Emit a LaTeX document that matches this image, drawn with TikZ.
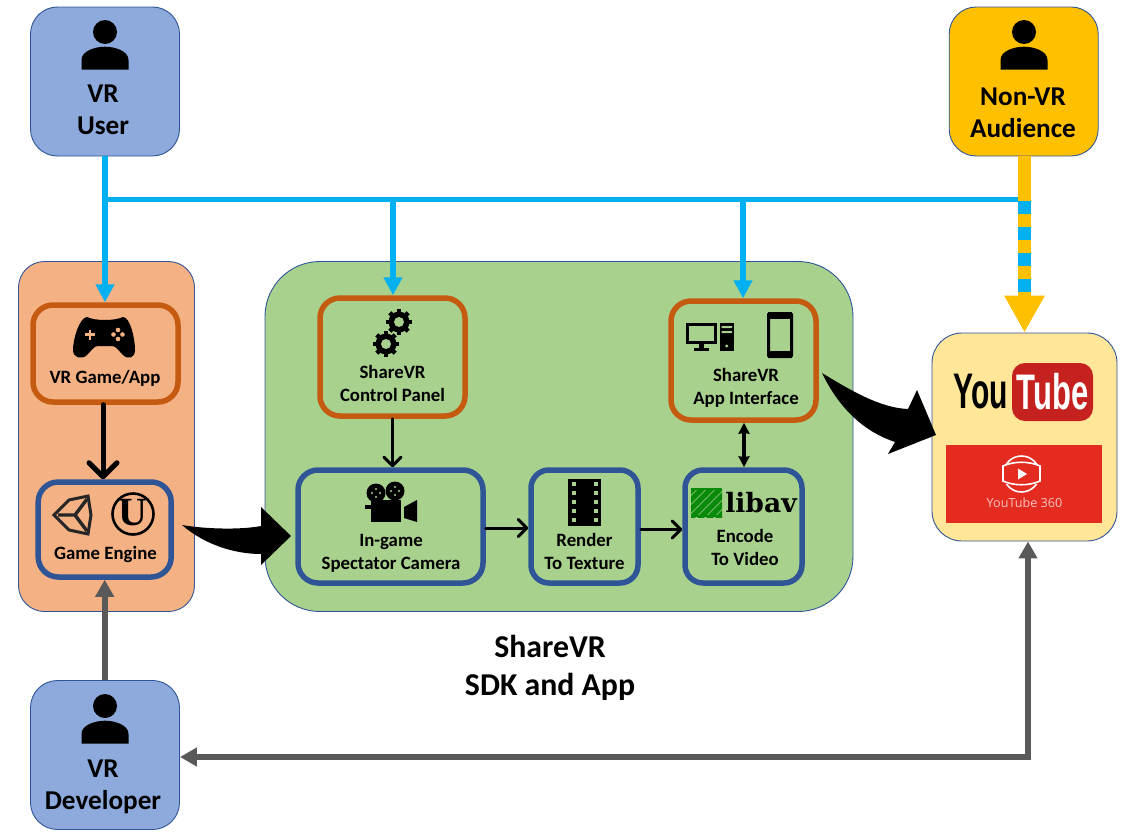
\documentclass[tikz,border=0pt]{standalone}
\usepackage{fontspec}
\usepackage{graphicx}
\setmainfont{Carlito}
\newfontfamily\ytfont{Liberation Sans}
\newfontfamily\slabfont{DejaVu Serif}
\newfontfamily\lightfont{Open Sans}
\newfontfamily\ufont{Liberation Serif}
\usetikzlibrary{arrows.meta}
\definecolor{cuser}{HTML}{8EA9DB}
\definecolor{caud}{HTML}{FFC000}
\definecolor{cpeach}{HTML}{F4B183}
\definecolor{cgreen}{HTML}{A9D18E}
\definecolor{cpale}{HTML}{FFE699}
\definecolor{cedge}{HTML}{2F5597}
\definecolor{crust}{HTML}{C55A11}
\definecolor{cblue}{HTML}{00B0F0}
\definecolor{cgrey}{HTML}{595959}
\definecolor{cytred}{HTML}{E32B20}
\definecolor{ctube}{HTML}{C4211F}
\definecolor{clib}{HTML}{0A8A0A}
\tikzset{
  panel/.style={draw=cedge,line width=0.9pt,inner sep=0pt},
  userbox/.style={panel,fill=cuser,minimum width=149pt,minimum height=149pt,rounded corners=27pt},
  audbox/.style={panel,fill=caud,minimum width=149pt,minimum height=149pt,rounded corners=27pt},
  rustbox/.style={draw=crust,line width=5.5pt,inner sep=0pt,rounded corners=20pt},
  bluebox/.style={draw=cedge,line width=5.5pt,inner sep=0pt,rounded corners=20pt},
  biglab/.style={inner sep=0pt,align=center,font=\fontsize{27.2}{32}\selectfont\bfseries},
  lab/.style={inner sep=0pt,align=center,font=\fontsize{18.8}{23}\selectfont\bfseries},
  titlelab/.style={inner sep=0pt,align=center,font=\fontsize{31.8}{38}\selectfont\bfseries},
  bluearrow/.style={draw=cblue,line width=5.5pt,-{Triangle[length=18pt,width=18pt]}},
  greyarrow/.style={draw=cgrey,line width=6pt,-{Triangle[length=17pt,width=18pt]}},
  blackbarb/.style={draw=black,line cap=round,-{Straight Barb[length=#1,width=2*#1,round]}},
}
\newcommand{\personicon}[2]{%
  \fill[black] (#1,#2+32) circle (12);
  \fill[black] (#1-23.5,#2+69.5) -- (#1-23.5,#2+60) .. controls (#1-23.5,#2+51) and (#1-10,#2+46.7) .. (#1,#2+46.7)
     .. controls (#1+10,#2+46.7) and (#1+23.5,#2+51) .. (#1+23.5,#2+60) -- (#1+23.5,#2+69.5) -- cycle;
}
\newcommand{\gearicon}[2]{%
  \fill[black] (#1,#2) circle (10.5);
  \foreach \a in {0,45,...,315} \draw[black,line width=4.5pt] (#1,#2) ++(\a:9) -- ++(\a:4);
  \fill[cgreen] (#1,#2) circle (5);
}
\begin{document}
\begin{tikzpicture}[x=1pt,y=-1pt]
\useasboundingbox (0,0) rectangle (1127,835);
% containers
\node[panel,fill=cpeach,minimum width=176pt,minimum height=350pt,rounded corners=26pt] (engine) at (106.5,436.5) {};
\node[panel,fill=cgreen,minimum width=588pt,minimum height=350pt,rounded corners=55pt] (sdk) at (559,436.5) {};
\node[panel,fill=cpale,minimum width=185pt,minimum height=208pt,rounded corners=30pt] (yt) at (1024.5,437) {};
% people
\node[userbox] (user) at (105,81.5) {};
\node[audbox] (aud) at (1023.7,81.5) {};
\node[userbox] (dev) at (105,755) {};
\personicon{105}{0}
\personicon{1024}{0}
\personicon{105}{674}
\node[biglab] (userlab) at (103,110) {VR\\User};
\node[biglab] (audlab) at (1023,113) {Non-VR\\Audience};
\node[biglab] (devlab) at (103,787) {VR\\Developer};
% inner boxes
\node[rustbox,minimum width=145pt,minimum height=97pt] (game) at (105.5,353.5) {};
\node[bluebox,minimum width=133pt,minimum height=95pt] (ge) at (104.7,529.5) {};
\node[rustbox,minimum width=145pt,minimum height=118pt] (cp) at (392.5,357) {};
\node[bluebox,minimum width=185pt,minimum height=113pt] (cam) at (390.5,526.5) {};
\node[bluebox,minimum width=107pt,minimum height=113pt,rounded corners=18pt] (rtt) at (584.5,526.5) {};
\node[bluebox,minimum width=117pt,minimum height=113pt,rounded corners=18pt] (enc) at (743.5,526.5) {};
\node[rustbox,minimum width=145pt,minimum height=119pt] (app) at (743.5,360.5) {};
% labels
\node[lab] (gamelab) at (105,378) {VR Game/App};
\node[lab] (gelab) at (105.5,554) {Game Engine};
\node[lab] (cplab) at (392.5,383.5) {ShareVR\\Control Panel};
\node[lab] (camlab) at (391,553) {In-game\\Spectator Camera};
\node[lab] (rttlab) at (584.5,551.5) {Render\\To Texture};
\node[lab] (enclab) at (745,547.5) {Encode\\To Video};
\node[lab] (applab) at (746,388) {ShareVR\\App Interface};
\node[titlelab] (title) at (550,667.5) {ShareVR\\SDK and App};
% gamepad
\fill[black] (87,317) .. controls (95,321) and (115,321) .. (123,317) .. controls (130,317) and (135,338) .. (135,350)
  .. controls (135,358) and (128,360) .. (123,355) .. controls (118,350) and (116,346) .. (112,346) -- (98,346)
  .. controls (94,346) and (92,350) .. (87,355) .. controls (82,360) and (73,358) .. (73,350)
  .. controls (73,338) and (80,317) .. (87,317) -- cycle;
\fill[cpeach] (85,333.3) rectangle (95,335.7);
\fill[cpeach] (88.8,329.5) rectangle (91.2,339.5);
\fill[cpeach] (113.5,334.5) circle (2.3) (122.5,334.5) circle (2.3) (118,330) circle (2.3) (118,339) circle (2.3);
% unity
\draw[black!85,line width=3pt,line join=miter] (54,515) -- (69,500) -- (88,496) -- (91,515) -- (88,534) -- (69,530) -- cycle;
\draw[black!85,line width=3.4pt] (58,515) -- (75,515) -- (87,499) (75,515) -- (87,531);
% unreal
\draw[black,line width=2.6pt] (133,514) circle (20.5);
\node[inner sep=0pt,font=\ufont\bfseries\fontsize{40}{40}\selectfont] (ulogo) at (133,513) {U};
% gears
\gearicon{399}{322}
\gearicon{386}{344}
% camera
\fill[black] (376,493) circle (9.5);
\fill[black] (395,491) circle (9.5);
\fill[black] (371,500) rectangle (401,522);
\fill[black] (365,504.5) rectangle (372,509);
\fill[black] (404,507) -- (417,500) -- (417,522) -- (404,518) -- cycle;
\foreach \cx/\cy in {376/493,395/491}{
  \fill[cgreen] (\cx,\cy-4) circle (1.2) (\cx,\cy+4) circle (1.2) (\cx-4,\cy) circle (1.2) (\cx+4,\cy) circle (1.2);
}
% film strip
\fill[black] (568,479) rectangle (601,526);
\foreach \hy in {484,493,502,511,520}{
  \fill[cgreen] (571.5,\hy-2) rectangle (576,\hy+2);
  \fill[cgreen] (593.5,\hy-2) rectangle (598,\hy+2);
}
% libav
\begin{scope}
\clip (691,488) rectangle (722,517);
\foreach \s in {-18,-9,0,9,18,27,36,45}{
  \draw[clib,line width=5.5pt] (691+\s-10,519) -- (691+\s+21,488);
}
\end{scope}
\draw[clib,line width=2pt] (692,489) -- (721,489) (692,516) -- (721,516);
\node[inner sep=0pt,font=\slabfont\bfseries\fontsize{26.6}{26.6}\selectfont] (liblab) at (761,503) {libav};
% monitor + tower + phone
\draw[black,line width=3pt] (687.5,324.5) rectangle (715.5,342);
\fill[black] (699,342) rectangle (704,349);
\fill[black] (694,348) rectangle (709,351.3);
\fill[black] (719.5,323) rectangle (734,351.3);
\fill[cgreen] (721.5,326) rectangle (732,328) (721.5,331) rectangle (732,333);
\fill[cgreen] (726.8,346) circle (1.6);
\draw[black,line width=3pt,rounded corners=1pt] (768.5,313.5) rectangle (791.5,356.5);
\fill[black] (768,312) rectangle (792,318.5);
\fill[black] (768,351) rectangle (792,358);
% YouTube
\node[inner sep=0pt,font=\ytfont\bfseries\fontsize{50}{50}\selectfont] (you) at (981,391.5) {\scalebox{0.6}[1]{You}};
\node[fill=ctube,inner sep=0pt,minimum width=81pt,minimum height=58pt,rounded corners=13pt] (tube) at (1052.5,392) {};
\node[inner sep=0pt,text=white,font=\ytfont\bfseries\fontsize{50}{50}\selectfont] (tubelab) at (1052.5,391.5) {\scalebox{0.62}[1]{Tube}};
\node[fill=cytred,inner sep=0pt,minimum width=156pt,minimum height=78pt] (vr360) at (1024,484) {};
\draw[white,line width=1.6pt] (1021.5,474) circle (18);
\fill[cytred] (1001,465) rectangle (1042,484);
\draw[white,line width=1.6pt,fill=cytred] (1003,466) .. controls (1014,461) and (1029,461) .. (1040,466) -- (1040,481) .. controls (1029,486) and (1014,486) .. (1003,481) -- cycle;
\fill[white] (1018,468.5) -- (1027,474) -- (1018,479.5) -- cycle;
\node[inner sep=0pt,text=white!72!cytred,font=\lightfont\fontsize{12.6}{12.6}\selectfont] (vr360lab) at (1024.5,503) {YouTube 360};
% blue network
\coordinate (bj1) at (393,199.5);
\coordinate (bj2) at (743,199.5);
\coordinate (bj0) at (105,199.5);
\draw[cblue,line width=5pt] (bj0) -- (aud.south |- bj0);
\draw[bluearrow] (user.south) -- (user.south |- game.north);
\draw[bluearrow] (bj1) -- (bj1 |- cp.north);
\draw[bluearrow] (bj2) -- (bj2 |- app.north);
% audience arrow
\draw[caud,line width=13pt,-{Triangle[length=37pt,width=38pt]}] (aud.south -| yt.north) -- (yt.north);
\coordinate (ds) at (1024.5,201);
\coordinate (de) at (1024.5,292);
\draw[cblue,line width=13pt,dash pattern=on 13pt off 13pt] (ds) -- (de);
% grey arrows
\coordinate (gc) at (1028,757);
\draw[greyarrow] (dev.north -| ge.south) -- (ge.south);
\draw[draw=cgrey,line width=6pt,line join=miter,{Triangle[length=17pt,width=18pt]}-{Triangle[length=17pt,width=18pt]}] (dev.east |- gc) -- (gc) -- (gc |- yt.south);
% black arrows
\coordinate (gx) at (103,0);
\draw[blackbarb=14pt,line width=5pt] (game.south -| gx) -- (ge.north -| gx);
\draw[blackbarb=8.5pt,line width=3pt] (cp.south) -- (cam.north -| cp.south);
\coordinate (r1) at (0,528);
\coordinate (r2) at (0,529.5);
\draw[blackbarb=8.5pt,line width=3pt] (cam.east |- r1) -- (rtt.west |- r1);
\draw[blackbarb=8.5pt,line width=3pt] (rtt.east |- r2) -- (enc.west |- r2);
\coordinate (dbl) at (744,0);
\draw[black,line width=3.6pt,{Stealth[length=11pt,width=11pt,inset=1pt]}-{Stealth[length=11pt,width=11pt,inset=1pt]}] (app.south -| dbl) -- (enc.north -| dbl);
% curved block arrows
\fill[black] (182,525) .. controls (205,529) and (240,530) .. (261,526) -- (261,507) -- (291,536) -- (261,565) -- (261,554)
  .. controls (235,554) and (205,545) .. (182,525) -- cycle;
\fill[black] (822,373) .. controls (850,390) and (880,408) .. (908,409) -- (917,390) -- (936,435) -- (888,454) -- (895,442)
  .. controls (865,432) and (840,410) .. (822,373) -- cycle;
\end{tikzpicture}
\end{document}
